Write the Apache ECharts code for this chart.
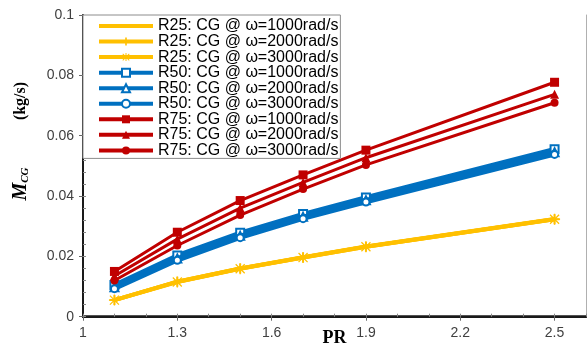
<!DOCTYPE html>
<html>
<head>
<meta charset="utf-8">
<script src="https://cdn.jsdelivr.net/npm/echarts@6/dist/echarts.min.js"></script>
<style>
  html, body { margin: 0; padding: 0; background: #ffffff; }
  #chart { width: 587px; height: 345px; }
</style>
</head>
<body>
<div id="chart"></div>
<script>
// Pressure ratio sample points
const prValues = [1.1, 1.3, 1.5, 1.7, 1.9, 2.5];

// Mass flow through the clearance gap (kg/s)
const r25w1000 = [0.0055, 0.0116, 0.0160, 0.0197, 0.0233, 0.0324];
const r25w2000 = [0.0055, 0.0116, 0.0160, 0.0196, 0.0232, 0.0323];
const r25w3000 = [0.0055, 0.0115, 0.0159, 0.0196, 0.0232, 0.0323];
const r50w1000 = [0.0105, 0.0203, 0.0278, 0.0340, 0.0395, 0.0555];
const r50w2000 = [0.0098, 0.0193, 0.0268, 0.0331, 0.0386, 0.0545];
const r50w3000 = [0.0093, 0.0187, 0.0262, 0.0325, 0.0380, 0.0538];
const r75w1000 = [0.0150, 0.0280, 0.0385, 0.0470, 0.0552, 0.0777];
const r75w2000 = [0.0135, 0.0257, 0.0360, 0.0445, 0.0527, 0.0737];
const r75w3000 = [0.0120, 0.0236, 0.0337, 0.0423, 0.0503, 0.0709];

const seriesNames = [
  'R25: CG @ \u03c9=1000rad/s', 'R25: CG @ \u03c9=2000rad/s', 'R25: CG @ \u03c9=3000rad/s',
  'R50: CG @ \u03c9=1000rad/s', 'R50: CG @ \u03c9=2000rad/s', 'R50: CG @ \u03c9=3000rad/s',
  'R75: CG @ \u03c9=1000rad/s', 'R75: CG @ \u03c9=2000rad/s', 'R75: CG @ \u03c9=3000rad/s'
];
const seriesValues = [r25w1000, r25w2000, r25w3000, r50w1000, r50w2000, r50w3000, r75w1000, r75w2000, r75w3000];

// Axis ticks
const xLabelTicks = [1, 1.3, 1.6, 1.9, 2.2, 2.5];
const yLabelTicks = [0, 0.02, 0.04, 0.06, 0.08, 0.1];

const YELLOW = '#FFC000', BLUE = '#0070C0', RED = '#C00000';
const PLUS = 'path://M4,0H6V4H10V6H6V10H4V6H0V4H4Z';
const STAR = 'path://M4.4,0H5.6V10H4.4Z M0,4.4H10V5.6H0Z M1.3,0.5L9.5,8.7L8.7,9.5L0.5,1.3Z M8.7,0.5L9.5,1.3L1.3,9.5L0.5,8.7Z';

const styles = [
  { color: YELLOW, width: 4, symbol: 'none', size: 0 },
  { color: YELLOW, width: 4, symbol: PLUS, size: 10 },
  { color: YELLOW, width: 4, symbol: STAR, size: 11 },
  { color: BLUE, width: 4.5, symbol: 'emptyRect', size: 8 },
  { color: BLUE, width: 4.5, symbol: 'emptyTriangle', size: 8 },
  { color: BLUE, width: 4.5, symbol: 'emptyCircle', size: 7 },
  { color: RED, width: 3, symbol: 'rect', size: 9 },
  { color: RED, width: 3, symbol: 'triangle', size: 9 },
  { color: RED, width: 3, symbol: 'circle', size: 8 }
];

const series = seriesNames.map((name, k) => ({
  name: name,
  type: 'line',
  xAxisIndex: 0,
  yAxisIndex: 0,
  data: prValues.map((x, i) => [x, seriesValues[k][i]]),
  symbol: styles[k].symbol,
  symbolSize: styles[k].size,
  showSymbol: styles[k].symbol !== 'none',
  lineStyle: { color: styles[k].color, width: styles[k].width },
  itemStyle: { color: styles[k].color, borderWidth: 1.5 },
  z: 2 + k
}));

// Legend entries: line sample plus marker, no marker for the plain line
const legendData = seriesNames.map((name, k) => {
  const item = { name: name, lineStyle: { width: 4 } };
  if (styles[k].symbol === 'none') item.itemStyle = { opacity: 0 };
  return item;
});

const gridRect = { left: 83, top: 15, right: 1, bottom: 28.3 };
const labelFont = { fontFamily: 'Arial, "Liberation Sans", sans-serif', fontSize: 14, color: '#404040' };
const serifBold = '"Liberation Serif", "Times New Roman", serif';

const chart = echarts.init(document.getElementById('chart'), null, { renderer: 'canvas' });
chart.setOption({
  animation: false,
  backgroundColor: '#ffffff',
  grid: [
    Object.assign({ containLabel: false, outerBoundsMode: 'none' }, gridRect),
    Object.assign({ containLabel: false, outerBoundsMode: 'none' }, gridRect)
  ],
  xAxis: [
    {
      type: 'value', gridIndex: 0, min: 1, max: 2.6, position: 'bottom',
      axisLine: { show: true, lineStyle: { color: '#1a1a1a', width: 2 } },
      axisTick: { show: true, customValues: xLabelTicks, length: 4, lineStyle: { color: '#666' } },
      axisLabel: Object.assign({ customValues: xLabelTicks, margin: 9 }, labelFont),
      splitLine: { show: false },
      name: 'PR', nameLocation: 'middle', nameGap: 13, nameMoveOverlap: false,
      nameTextStyle: { fontFamily: serifBold, fontWeight: 'bold', fontSize: 18, color: '#000' }
    },
    {
      type: 'value', gridIndex: 0, min: 1, max: 2.6, position: 'top',
      axisLine: { show: true, lineStyle: { color: '#1a1a1a', width: 2.5 } },
      axisTick: { show: false }, axisLabel: { show: false }, splitLine: { show: false }
    },
    {
      type: 'value', gridIndex: 1, min: 1, max: 2.6, interval: 0.1, position: 'bottom',
      axisLine: { show: false },
      axisTick: { show: true, inside: true, length: 3, lineStyle: { color: '#888' } },
      axisLabel: { show: false }, splitLine: { show: false }
    }
  ],
  yAxis: [
    {
      type: 'value', gridIndex: 0, min: 0, max: 0.1, position: 'left',
      axisLine: { show: true, lineStyle: { color: '#1a1a1a', width: 2 } },
      axisTick: { show: true, customValues: yLabelTicks, length: 4, lineStyle: { color: '#666' } },
      axisLabel: Object.assign({ customValues: yLabelTicks, margin: 9 }, labelFont),
      splitLine: { show: false }
    },
    {
      type: 'value', gridIndex: 0, min: 0, max: 0.1, position: 'right',
      axisLine: { show: true, lineStyle: { color: '#b0b0b0', width: 1 } },
      axisTick: { show: false }, axisLabel: { show: false }, splitLine: { show: false }
    },
    {
      type: 'value', gridIndex: 1, min: 0, max: 0.1, interval: 0.004, position: 'left',
      axisLine: { show: false },
      axisTick: { show: true, inside: true, length: 3, lineStyle: { color: '#888' } },
      axisLabel: { show: false }, splitLine: { show: false }
    }
  ],
  legend: {
    orient: 'vertical',
    left: 83, top: 15,
    z: 30,
    padding: [3, 2, 0, 14],
    itemWidth: 54, itemHeight: 10, itemGap: -0.45,
    itemTextGap: 3,
    backgroundColor: '#ffffff',
    borderColor: '#8c8c8c', borderWidth: 1, borderRadius: 0,
    textStyle: { fontFamily: 'Arial, "Liberation Sans", sans-serif', fontSize: 16, lineHeight: 14, color: '#000' },
    data: legendData
  },
  graphic: [
    {
      type: 'text', x: 21, y: 101, rotation: Math.PI / 2,
      style: { text: '(kg/s)', font: 'bold 16px "Liberation Serif", "Times New Roman", serif', fill: '#000', align: 'center', verticalAlign: 'middle' }
    },
    {
      type: 'text', x: 21, y: 184, rotation: Math.PI / 2,
      style: {
        text: '{m|M}{s|CG}', align: 'center', verticalAlign: 'middle',
        rich: {
          m: { fontFamily: serifBold, fontStyle: 'italic', fontWeight: 'bold', fontSize: 20, color: '#000' },
          s: { fontFamily: serifBold, fontStyle: 'italic', fontWeight: 'bold', fontSize: 11, color: '#000', padding: [8, 0, 0, 0] }
        }
      }
    }
  ],
  series: series
});
</script>
</body>
</html>
